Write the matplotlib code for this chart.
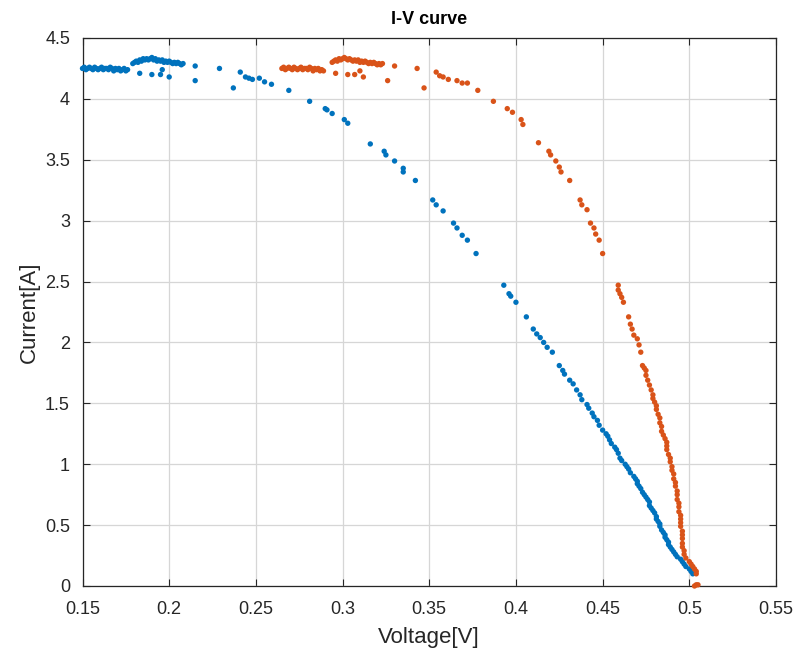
import numpy as np
import matplotlib
matplotlib.use("Agg")
import matplotlib.pyplot as plt

plt.rcParams["font.family"] = ["Liberation Sans", "DejaVu Sans"]

# measured I-V points, first sweep (blue)
blue_v = [0.150, 0.151, 0.152, 0.153, 0.154, 0.155, 0.156, 0.157, 0.158, 0.159,
          0.160, 0.161, 0.162, 0.163, 0.164, 0.165, 0.166, 0.167, 0.168, 0.169,
          0.170, 0.171, 0.172, 0.173, 0.174, 0.175, 0.176,
          0.179, 0.180, 0.181, 0.182, 0.183, 0.184, 0.185, 0.186, 0.187, 0.188,
          0.189, 0.190, 0.191, 0.192, 0.193, 0.194, 0.195, 0.196, 0.197, 0.198,
          0.199, 0.200, 0.201, 0.202, 0.203, 0.204, 0.205, 0.206, 0.207, 0.208,
          0.183, 0.190, 0.195, 0.196, 0.200, 0.215, 0.215, 0.229, 0.237, 0.241,
          0.244, 0.246, 0.248, 0.252, 0.255, 0.259, 0.269, 0.281, 0.290, 0.291,
          0.294, 0.301, 0.303, 0.316, 0.324, 0.325, 0.330, 0.335, 0.335, 0.342,
          0.352, 0.354, 0.358, 0.364, 0.366, 0.369, 0.372, 0.377,
          0.393, 0.396, 0.397, 0.400, 0.406, 0.410, 0.412, 0.414, 0.416, 0.418,
          0.421, 0.425, 0.427, 0.428, 0.431, 0.433, 0.435, 0.437,
          0.438, 0.441, 0.442, 0.444, 0.445, 0.447, 0.448, 0.450, 0.452, 0.453,
          0.454, 0.455, 0.457, 0.458, 0.459, 0.460, 0.461, 0.463, 0.464, 0.465,
          0.466, 0.468, 0.469, 0.470, 0.470, 0.471, 0.472, 0.473, 0.474, 0.475,
          0.476, 0.477, 0.477, 0.478, 0.479, 0.480, 0.481, 0.481, 0.482, 0.483,
          0.483, 0.484, 0.485, 0.486, 0.486, 0.487, 0.488, 0.488, 0.489, 0.490,
          0.491, 0.492, 0.493, 0.495, 0.496, 0.497, 0.498, 0.500, 0.501, 0.502]
blue_i = [4.25, 4.26, 4.24, 4.25, 4.26, 4.25, 4.24, 4.26, 4.25, 4.24,
          4.25, 4.26, 4.24, 4.25, 4.25, 4.24, 4.26, 4.25, 4.23, 4.25,
          4.24, 4.25, 4.23, 4.24, 4.25, 4.23, 4.24,
          4.29, 4.30, 4.31, 4.30, 4.32, 4.31, 4.33, 4.32, 4.33, 4.32,
          4.33, 4.34, 4.32, 4.33, 4.31, 4.32, 4.31, 4.32, 4.30, 4.31,
          4.30, 4.31, 4.30, 4.29, 4.30, 4.29, 4.30, 4.29, 4.28, 4.29,
          4.21, 4.20, 4.20, 4.24, 4.18, 4.27, 4.15, 4.25, 4.09, 4.22,
          4.18, 4.17, 4.16, 4.17, 4.14, 4.12, 4.07, 3.98, 3.92, 3.91,
          3.88, 3.83, 3.80, 3.63, 3.57, 3.54, 3.49, 3.43, 3.40, 3.33,
          3.17, 3.13, 3.08, 2.98, 2.94, 2.88, 2.84, 2.73,
          2.47, 2.40, 2.38, 2.33, 2.21, 2.11, 2.07, 2.04, 2.00, 1.96,
          1.92, 1.81, 1.77, 1.74, 1.69, 1.66, 1.61, 1.57,
          1.53, 1.49, 1.46, 1.42, 1.39, 1.36, 1.32, 1.28, 1.25, 1.23,
          1.20, 1.17, 1.14, 1.12, 1.09, 1.05, 1.03, 1.00, 0.98, 0.96,
          0.93, 0.90, 0.88, 0.86, 0.84, 0.82, 0.80, 0.77, 0.75, 0.73,
          0.71, 0.69, 0.66, 0.64, 0.62, 0.60, 0.57, 0.55, 0.53, 0.51,
          0.49, 0.46, 0.44, 0.42, 0.40, 0.38, 0.36, 0.34, 0.32, 0.30,
          0.28, 0.26, 0.24, 0.22, 0.20, 0.18, 0.16, 0.14, 0.12, 0.10]

# second sweep (orange)
orange_v = [0.265, 0.266, 0.267, 0.268, 0.269, 0.270, 0.271, 0.272, 0.273, 0.274,
            0.275, 0.276, 0.277, 0.278, 0.279, 0.280, 0.281, 0.282, 0.283, 0.284,
            0.285, 0.286, 0.287, 0.288, 0.289,
            0.294, 0.295, 0.296, 0.297, 0.298, 0.299, 0.300, 0.301, 0.302, 0.303,
            0.304, 0.305, 0.306, 0.307, 0.308, 0.309, 0.310, 0.311, 0.312, 0.313,
            0.314, 0.315, 0.316, 0.317, 0.318, 0.319, 0.320, 0.321, 0.322, 0.323,
            0.296, 0.303, 0.307, 0.310, 0.312, 0.326, 0.330, 0.343, 0.347, 0.354,
            0.356, 0.358, 0.361, 0.366, 0.369, 0.372, 0.378, 0.387, 0.395, 0.398,
            0.403, 0.404, 0.413, 0.419, 0.420, 0.423, 0.425, 0.426, 0.431, 0.437,
            0.438, 0.441, 0.443, 0.445, 0.446, 0.448, 0.450,
            0.459, 0.459, 0.460, 0.461, 0.462, 0.465, 0.466, 0.467, 0.468, 0.470,
            0.471, 0.472, 0.473, 0.474, 0.475, 0.475, 0.476, 0.477, 0.478, 0.479,
            0.479, 0.480, 0.481, 0.481, 0.482, 0.483, 0.483, 0.484, 0.484, 0.485,
            0.486, 0.487, 0.487, 0.487, 0.488, 0.489, 0.489, 0.490, 0.490, 0.491,
            0.491, 0.492, 0.492, 0.493, 0.493, 0.493, 0.494, 0.494, 0.494, 0.495,
            0.495, 0.495, 0.495, 0.496, 0.496, 0.496, 0.496, 0.496, 0.497, 0.497,
            0.498, 0.500, 0.501, 0.502, 0.503, 0.504, 0.504, 0.504, 0.505, 0.503]
orange_i = [4.25, 4.26, 4.24, 4.25, 4.26, 4.25, 4.24, 4.26, 4.25, 4.24,
            4.25, 4.26, 4.24, 4.25, 4.25, 4.24, 4.26, 4.25, 4.23, 4.25,
            4.24, 4.25, 4.23, 4.24, 4.23,
            4.30, 4.31, 4.32, 4.31, 4.33, 4.32, 4.33, 4.34, 4.33, 4.32,
            4.33, 4.32, 4.31, 4.32, 4.31, 4.32, 4.30, 4.31, 4.30, 4.31,
            4.30, 4.29, 4.30, 4.29, 4.30, 4.29, 4.28, 4.29, 4.28, 4.29,
            4.21, 4.20, 4.20, 4.23, 4.18, 4.15, 4.27, 4.25, 4.09, 4.22,
            4.19, 4.18, 4.16, 4.15, 4.13, 4.13, 4.07, 3.98, 3.92, 3.89,
            3.83, 3.79, 3.64, 3.57, 3.54, 3.49, 3.44, 3.40, 3.33, 3.17,
            3.13, 3.09, 2.98, 2.94, 2.89, 2.84, 2.73,
            2.47, 2.43, 2.40, 2.37, 2.33, 2.21, 2.15, 2.11, 2.06, 2.03,
            1.98, 1.92, 1.81, 1.79, 1.77, 1.73, 1.69, 1.65, 1.61, 1.57,
            1.54, 1.51, 1.48, 1.45, 1.41, 1.38, 1.34, 1.31, 1.27, 1.24,
            1.21, 1.18, 1.15, 1.12, 1.08, 1.05, 1.02, 0.98, 0.95, 0.92,
            0.88, 0.85, 0.82, 0.78, 0.75, 0.71, 0.68, 0.65, 0.61, 0.58,
            0.55, 0.52, 0.49, 0.45, 0.42, 0.39, 0.35, 0.32, 0.29, 0.26,
            0.23, 0.20, 0.18, 0.16, 0.14, 0.12, 0.10, 0.01, 0.01, 0.00]

x_ticks = [0.15, 0.2, 0.25, 0.3, 0.35, 0.4, 0.45, 0.5, 0.55]
x_labels = ["0.15", "0.2", "0.25", "0.3", "0.35", "0.4", "0.45", "0.5", "0.55"]
y_ticks = [0, 0.5, 1, 1.5, 2, 2.5, 3, 3.5, 4, 4.5]
y_labels = ["0", "0.5", "1", "1.5", "2", "2.5", "3", "3.5", "4", "4.5"]

fig = plt.figure(figsize=(7.98, 6.62), dpi=100)
ax = fig.add_axes([82.5 / 798, 1 - 586 / 662, (776 - 82.5) / 798, (586 - 38) / 662])

ax.scatter(blue_v, blue_i, s=15, color="#0072BD", edgecolors="none", clip_on=False, zorder=3)
ax.scatter(orange_v, orange_i, s=15, color="#D95319", edgecolors="none", clip_on=False, zorder=3)

ax.set_xlim(0.15, 0.55)
ax.set_ylim(0, 4.5)
ax.set_xticks(x_ticks)
ax.set_xticklabels(x_labels)
ax.set_yticks(y_ticks)
ax.set_yticklabels(y_labels)

ax.grid(True, color="#d6d6d6", linewidth=0.9)
ax.set_axisbelow(True)
ax.tick_params(direction="in", top=True, right=True, length=5, width=0.8,
               labelsize=13, colors="#262626")
ax.tick_params(axis="x", pad=11)
ax.tick_params(axis="y", pad=9)
for sp in ax.spines.values():
    sp.set_color("#262626")
    sp.set_linewidth(0.9)

ax.set_xlabel("Voltage[V]", fontsize=16, color="#262626", labelpad=6)
ax.set_ylabel("Current[A]", fontsize=16, color="#262626", labelpad=4)
ax.set_title("I-V curve", fontsize=13, fontweight="bold", pad=10)

fig.savefig("out.png", dpi=100)
